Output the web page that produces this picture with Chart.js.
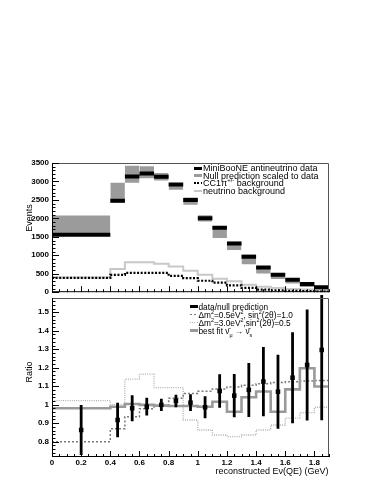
<!DOCTYPE html>
<html>
<head>
<meta charset="utf-8">
<script src="https://cdn.jsdelivr.net/npm/chart.js@4.4.1/dist/chart.umd.min.js"></script>
<style>
  body { margin: 0; background: #fff; }
  #wrap { position: relative; width: 374px; height: 485px; overflow: hidden;
          font-family: 'Liberation Sans', Arial, sans-serif; color: #000; }
  canvas { position: absolute; left: 0; }
  .title { position: absolute; font-size: 9px; line-height: 11px; white-space: nowrap; }
  .leg { position: absolute; white-space: nowrap; height: 8px; line-height: 8px; }
  .leg .smp { position: absolute; left: -9px; width: 8px; top: 50%; }
  sup, sub { font-size: 65%; line-height: 0; }
</style>
</head>
<body>
<div id="wrap">
  <canvas id="events" width="374" height="300" style="top:0"></canvas>
  <canvas id="ratio" width="374" height="195" style="top:290px"></canvas>

  <div class="title" style="left:28.5px;top:217.5px;transform:translate(-50%,-50%) rotate(-90deg)">Events</div>
  <div class="title" style="left:28.5px;top:371.5px;transform:translate(-50%,-50%) rotate(-90deg)">Ratio</div>
  <div class="title" style="right:45.5px;top:466px">reconstructed Eν(QE) (GeV)</div>

  <div class="leg" style="left:203px;top:164px;font-size:9px">
    <span class="smp" style="height:3px;margin-top:-1.5px;background:#000"></span>MiniBooNE antineutrino data</div>
  <div class="leg" style="left:203px;top:171.5px;font-size:9px">
    <span class="smp" style="height:3px;margin-top:-1.5px;background:#9b9b9b"></span>Null prediction scaled to data</div>
  <div class="leg" style="left:203px;top:179px;font-size:9px">
    <span class="smp" style="height:2px;margin-top:-1px;background:repeating-linear-gradient(90deg,#000 0 2px,transparent 2px 3.5px)"></span>CC1π<sup>+/-</sup> background</div>
  <div class="leg" style="left:203px;top:186.5px;font-size:9px">
    <span class="smp" style="height:2px;margin-top:-1px;background:#c8c8c8"></span>neutrino background</div>

  <div class="leg" style="left:198.5px;top:302.5px;font-size:8.3px">
    <span class="smp" style="height:3px;margin-top:-1.5px;background:#000"></span>data/null prediction</div>
  <div class="leg" style="left:198.5px;top:310.5px;font-size:8.3px">
    <span class="smp" style="height:1.5px;margin-top:-0.75px;background:repeating-linear-gradient(90deg,#7a7a7a 0 2px,transparent 2px 4px)"></span>Δm<sup>2</sup>=0.5eV<sup>2</sup>, sin<sup>2</sup>(2θ)=1.0</div>
  <div class="leg" style="left:198.5px;top:318.5px;font-size:8.3px">
    <span class="smp" style="height:1.3px;margin-top:-0.65px;background:repeating-linear-gradient(90deg,#b0b0b0 0 1px,transparent 1px 2.2px)"></span>Δm<sup>2</sup>=3.0eV<sup>2</sup>,sin<sup>2</sup>(2θ)=0.5</div>
  <div class="leg" style="left:198.5px;top:326.5px;font-size:8.3px">
    <span class="smp" style="height:2.6px;margin-top:-1.3px;background:#9a9a9a"></span>best fit ν̄<sub>μ</sub> → ν̄<sub>s</sub></div>
</div>

<script>
// bin edges in reconstructed E_QE (GeV)
const binEdges = [0, 0.4, 0.5, 0.6, 0.7, 0.8, 0.9, 1.0, 1.1, 1.2, 1.3, 1.4, 1.5, 1.6, 1.7, 1.8, 1.9];

// top panel: events per bin
const dataEvents = [1557, 2474, 3134, 3214, 3126, 2920, 2500, 2003, 1745, 1317, 961, 667, 471, 338, 222, 133];
const nullPred   = [1806, 2698, 3195, 3250, 3129, 2863, 2466, 2000, 1625, 1255, 890, 593, 440, 295, 183, 103];
const nullErr    = [270, 268, 230, 160, 103, 90, 98, 85, 155, 111, 133, 89, 80, 62, 45, 45];
const cc1piBkg   = [390, 470, 524, 524, 524, 444, 382, 310, 257, 187, 115, 70, 53, 35, 27, 18];
const nuBkg      = [395, 631, 810, 810, 774, 694, 578, 470, 363, 294, 203, 150, 115, 88, 70, 53];

// bottom panel: data / null prediction and oscillation models
const ratio    = [0.863, 0.917, 0.981, 0.989, 0.999, 1.020, 1.011, 0.986, 1.074, 1.049, 1.080, 1.125, 1.070, 1.146, 1.215, 1.296];
const ratioErr = [0.135, 0.093, 0.070, 0.048, 0.033, 0.034, 0.045, 0.060, 0.090, 0.117, 0.146, 0.187, 0.200, 0.246, 0.300, 0.380];
const osc05    = [0.800, 0.870, 0.935, 0.978, 0.995, 1.035, 1.060, 1.073, 1.085, 1.095, 1.105, 1.113, 1.120, 1.124, 1.128, 1.131];
const osc30    = [1.022, 1.000, 1.138, 1.165, 1.092, 1.092, 0.917, 0.863, 0.836, 0.827, 0.836, 0.863, 0.890, 0.927, 0.957, 0.986];
const bestFit  = [0.981, 0.989, 1.004, 0.999, 0.995, 0.993, 0.993, 0.989, 1.016, 0.962, 1.040, 1.071, 0.962, 1.083, 1.197, 1.098];

Chart.defaults.font.family = "'Liberation Sans', Arial, sans-serif";
Chart.defaults.font.size = 8;
Chart.defaults.color = '#000';

// histogram outline through the bin edges (used with stepped: true)
function steps(vals) {
  const pts = vals.map((v, i) => ({ x: binEdges[i], y: v }));
  pts.push({ x: binEdges[vals.length], y: vals[vals.length - 1] });
  return pts;
}
// one flat segment per bin, broken between bins
function flats(vals) {
  const pts = [];
  vals.forEach((v, i) => {
    pts.push({ x: binEdges[i], y: v }, { x: binEdges[i + 1], y: v }, { x: binEdges[i + 1], y: null });
  });
  return pts;
}
const binCenter = i => (binEdges[i] + binEdges[i + 1]) / 2;

// ROOT-like frame with ticks drawn inside
const rootFrame = {
  id: 'rootFrame',
  afterDatasetsDraw(chart, args, o) {
    const { ctx, chartArea: a, scales: { x, y } } = chart;
    ctx.save();
    ctx.lineWidth = 1;
    ctx.strokeStyle = '#555';
    ctx.beginPath();
    ctx.moveTo(a.left, a.top + 0.5); ctx.lineTo(a.right - 0.5, a.top + 0.5); ctx.lineTo(a.right - 0.5, a.bottom);
    ctx.stroke();
    ctx.strokeStyle = '#000';
    ctx.beginPath();
    ctx.moveTo(a.left + 0.5, a.top); ctx.lineTo(a.left + 0.5, a.bottom - 0.5); ctx.lineTo(a.right, a.bottom - 0.5);
    const each = (scale, step, fn) => {
      const i0 = Math.ceil(scale.min / step - 1e-6), i1 = Math.floor(scale.max / step + 1e-6);
      for (let i = i0; i <= i1; i++) fn(scale.getPixelForValue(i * step), i * step);
    };
    const isMajor = (v, step) => Math.abs(v / step - Math.round(v / step)) < 1e-6;
    each(x, o.xMinor, (px, v) => {
      const len = isMajor(v, o.xMajor) ? 6 : 3;
      ctx.moveTo(Math.round(px) + 0.5, a.bottom); ctx.lineTo(Math.round(px) + 0.5, a.bottom - len);
    });
    each(y, o.yMinor, (py, v) => {
      const len = isMajor(v, o.yMajor) ? 7 : 3.5;
      ctx.moveTo(a.left, Math.round(py) + 0.5); ctx.lineTo(a.left + len, Math.round(py) + 0.5);
    });
    ctx.stroke();
    ctx.restore();
  }
};

const noGrid = { display: false, drawTicks: false };
const fmt = v => String(Math.round(v * 100) / 100);
const tickFont = { size: 8, weight: 'bold' };

new Chart(document.getElementById('events'), {
  type: 'line',
  data: {
    datasets: [
      { label: 'MiniBooNE antineutrino data', data: flats(dataEvents), borderColor: '#000', borderWidth: 4, borderCapStyle: 'butt' },
      { label: 'CC1pi background', data: steps(cc1piBkg), stepped: true, borderColor: '#000', borderWidth: 2.2, borderDash: [2, 1.6] },
      { label: 'neutrino background', data: steps(nuBkg), stepped: true, borderColor: '#c8c8c8', borderWidth: 2 },
      { label: 'null high', data: flats(nullPred.map((v, i) => v + nullErr[i])), borderColor: 'rgba(0,0,0,0)', borderWidth: 0, backgroundColor: '#9b9b9b', fill: '+1' },
      { label: 'null low', data: flats(nullPred.map((v, i) => v - nullErr[i])), borderColor: 'rgba(0,0,0,0)', borderWidth: 0 }
    ]
  },
  options: {
    responsive: false,
    animation: false,
    elements: { point: { radius: 0, hitRadius: 0 }, line: { tension: 0 } },
    layout: { padding: { top: 163, right: 45, left: 0, bottom: 0 } },
    plugins: {
      legend: { display: false },
      tooltip: { enabled: false },
      rootFrame: { xMinor: 0.05, xMajor: 0.2, yMinor: 100, yMajor: 500 }
    },
    scales: {
      x: {
        type: 'linear', min: 0, max: 1.9,
        grid: noGrid, border: { display: false },
        ticks: { display: false },
        afterFit: s => { s.height = 5; }
      },
      y: {
        min: 0, max: 3500,
        grid: noGrid, border: { display: false },
        ticks: { stepSize: 500, padding: 3, callback: fmt, font: tickFont },
        afterFit: s => { s.width = 52; }
      }
    }
  },
  plugins: [rootFrame]
});

const errPts = [];
ratio.forEach((r, i) => {
  errPts.push({ x: binCenter(i), y: r - ratioErr[i] }, { x: binCenter(i), y: r + ratioErr[i] }, { x: binCenter(i), y: null });
});

new Chart(document.getElementById('ratio'), {
  type: 'line',
  data: {
    datasets: [
      { label: 'data/null prediction', data: ratio.map((r, i) => ({ x: binCenter(i), y: r })), showLine: false,
        pointStyle: 'rect', pointRadius: 3.2, pointBackgroundColor: '#000', pointBorderWidth: 0 },
      { label: 'errors', data: errPts, borderColor: '#000', borderWidth: 2.8, borderCapStyle: 'butt', clip: { left: 0, right: 0, bottom: 0, top: 3 } },
      { label: 'best fit', data: steps(bestFit), stepped: true, borderColor: '#9a9a9a', borderWidth: 2.6 },
      { label: 'dm2=0.5', data: steps(osc05), stepped: true, borderColor: '#7a7a7a', borderWidth: 1.5, borderDash: [2, 2] },
      { label: 'dm2=3.0', data: steps(osc30), stepped: true, borderColor: '#b0b0b0', borderWidth: 1.3, borderDash: [1, 1.2] }
    ]
  },
  options: {
    responsive: false,
    animation: false,
    elements: { point: { radius: 0, hitRadius: 0 }, line: { tension: 0 } },
    layout: { padding: { top: 8, right: 45, left: 0, bottom: 0 } },
    plugins: {
      legend: { display: false },
      tooltip: { enabled: false },
      rootFrame: { xMinor: 0.05, xMajor: 0.2, yMinor: 0.02, yMajor: 0.1 }
    },
    scales: {
      x: {
        type: 'linear', min: 0, max: 1.9,
        grid: noGrid, border: { display: false },
        ticks: { stepSize: 0.2, includeBounds: false, autoSkip: false, maxRotation: 0, padding: 1, callback: fmt, font: tickFont },
        afterFit: s => { s.height = 28; }
      },
      y: {
        min: 0.717, max: 1.577,
        grid: noGrid, border: { display: false },
        ticks: { stepSize: 0.1, includeBounds: false, padding: 3, callback: fmt, font: tickFont },
        afterFit: s => { s.width = 52; }
      }
    }
  },
  plugins: [rootFrame]
});
</script>
</body>
</html>
